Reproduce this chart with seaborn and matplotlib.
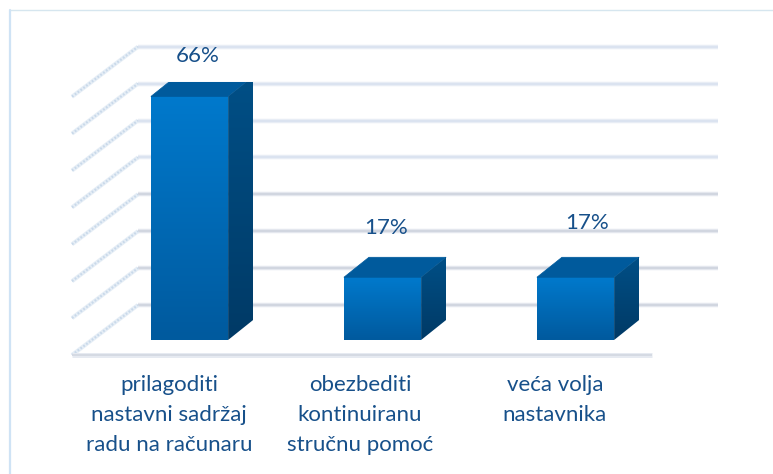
import matplotlib
matplotlib.use("Agg")
import matplotlib.pyplot as plt
import numpy as np
import pandas as pd
import seaborn as sns
from matplotlib.colors import LinearSegmentedColormap
from matplotlib.lines import Line2D
from matplotlib.patches import Polygon
from matplotlib.transforms import IdentityTransform

categories = ["prilagoditi\nnastavni sadržaj\nradu na računaru", "obezbediti\nkontinuiranu\nstručnu pomoć", "veća volja\nnastavnika"]
values = [66, 17, 17]
value_labels = ["66%", "17%", "17%"]
grid_values = [0, 10, 20, 30, 40, 50, 60, 70]

# label nudges in pixels, the source chart places them by hand
label_dx = [8, 4, 12]
label_dy = [40, 49, 54]
cat_centers = [169, 360, 555]

W, H = 773, 474
TEXT_COLOR = "#17508a"

sns.set_theme(style="white")
plt.rcParams["font.family"] = ["Lato", "DejaVu Sans"]

fig = plt.figure(figsize=(W / 100, H / 100), dpi=100, facecolor="white")
ax = fig.add_axes([93 / W, (H - 340) / H, 579 / W, 258.3 / H])
ax.patch.set_alpha(0)

df = pd.DataFrame({"cat": [c.replace("\n", " ") for c in categories], "val": values})
sns.barplot(data=df, x="cat", y="val", width=0.4, color="#0070c0", saturation=1, ax=ax, zorder=5)
ax.set_xlim(-0.5, 2.5)
ax.set_ylim(0, 70)
ax.set_xlabel("")
ax.set_ylabel("")
ax.set_xticks([])
ax.set_yticks([])
sns.despine(ax=ax, left=True, bottom=True)

xlim, ylim = ax.get_xlim(), ax.get_ylim()


def disp(x, y, dx=0, dy=0):
    p = ax.transData.transform((x, y))
    return (p[0] + dx, p[1] + dy)


def gradient_poly(pts, top, bottom, z):
    xs, ys = zip(*pts)
    cmap = LinearSegmentedColormap.from_list("g", [bottom, top])
    img = ax.imshow(np.linspace(1, 0, 64).reshape(-1, 1), cmap=cmap, aspect="auto",
                    extent=(min(xs), max(xs), min(ys), max(ys)),
                    transform=IdentityTransform(), zorder=z, interpolation="bilinear")
    poly = Polygon(pts, closed=True, transform=IdentityTransform(), fc="none", ec="none")
    ax.add_patch(poly)
    img.set_clip_path(poly)
    return img


# back wall lines and side wall dotted lines, 35px behind the bar plane
for g in grid_values:
    left = disp(-0.5, g, dx=45, dy=35)
    right = disp(2.5, g, dx=46, dy=35)
    shade = "#e8edf5" if g > 30 else "#e4e7ee"
    core = "#d9e2ef" if g > 30 else "#ced3de"
    for lw, col in [(3.2, shade), (1.2, core)]:
        ax.plot([left[0], right[0]], [left[1], right[1]], color=col, lw=lw, zorder=1,
                transform=IdentityTransform(), clip_on=False, solid_capstyle="butt")
    front = disp(-0.5, g, dx=-21, dy=-15)
    ax.plot([front[0], left[0]], [front[1], left[1]], color="#e6eef6", lw=3, zorder=1,
            transform=IdentityTransform(), clip_on=False, solid_capstyle="butt")
    ax.plot([front[0], left[0]], [front[1], left[1]], color="#c9d9ea", lw=1.6, ls=(0, (0.8, 0.8)),
            zorder=1, transform=IdentityTransform(), clip_on=False)

# floor front edge
f0 = disp(-0.5, 0, dx=-21, dy=-15)
f1 = disp(2.5, 0, dx=-20, dy=-15)
ax.plot([f0[0], f1[0]], [f0[1], f1[1]], color="#e6eaf1", lw=3.6, zorder=1,
        transform=IdentityTransform(), clip_on=False, solid_capstyle="butt")
ax.plot([f0[0], f1[0]], [f0[1], f1[1]], color="#d2d7e1", lw=1.2, zorder=1,
        transform=IdentityTransform(), clip_on=False, solid_capstyle="butt")

DX, DY = 25, 20
for bar, val, lab, ldx, ldy in zip(ax.patches, values, value_labels, label_dx, label_dy):
    x0, x1 = bar.get_x(), bar.get_x() + bar.get_width()
    a, b = disp(x0, val), disp(x1, val)
    c = disp(x1, 0)
    # front face
    gradient_poly([disp(x0, 0), c, b, a], "#0079cc", "#005a9e", 6)
    # top face
    top = [a, b, (b[0] + DX, b[1] + DY), (a[0] + DX, a[1] + DY)]
    ax.add_patch(Polygon(top, closed=True, transform=IdentityTransform(), fc="#005a9c", ec="#005a9c", lw=0.5, zorder=6))
    # side face
    side = [c, (c[0] + DX, c[1] + DY), (b[0] + DX, b[1] + DY), b]
    gradient_poly(side, "#004f86", "#003a66", 6)
    bar.set_visible(False)
    xc = (x0 + x1) / 2
    lp = disp(xc, val, dx=ldx, dy=ldy)
    ax.text(lp[0], lp[1], lab, transform=IdentityTransform(), ha="center", va="center",
            fontsize=16, color=TEXT_COLOR, zorder=8, clip_on=False)

# category labels, top aligned so the two line label starts level with the others
for cat, xc in zip(categories, cat_centers):
    ax.text(xc, H - 375, cat, transform=IdentityTransform(), ha="center", va="top",
            fontsize=16, color=TEXT_COLOR, linespacing=1.62, clip_on=False)

ax.set_xlim(xlim)
ax.set_ylim(ylim)

# frame of the source slide, only top and left edges are visible
fig.add_artist(Line2D([10 / W, 1], [1 - 9.5 / H, 1 - 9.5 / H], transform=fig.transFigure, color="#d6e6ef", lw=1))
fig.add_artist(Line2D([10 / W, 10 / W], [0, 1 - 9.5 / H], transform=fig.transFigure, color="#cfe3f5", lw=1.6))

fig.savefig("out.png", dpi=100)
